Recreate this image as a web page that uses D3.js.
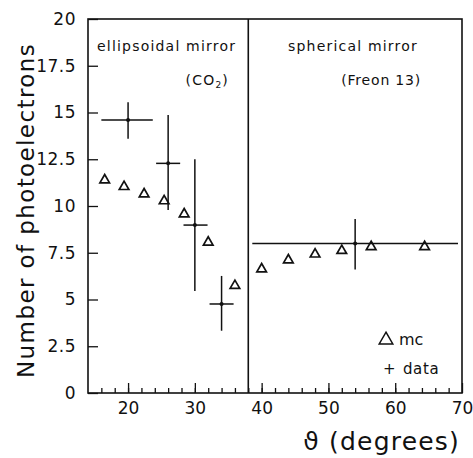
<!DOCTYPE html>
<html>
<head>
<meta charset="utf-8">
<script src="https://cdn.jsdelivr.net/npm/d3@7"></script>
<style>
  body { margin: 0; background: #fff; }
  text { font-family: "DejaVu Sans", sans-serif; fill: #111; }
</style>
</head>
<body>
<div id="chart"></div>
<script>
// data
const mcTheta = [16.5, 19.4, 22.4, 25.4, 28.4, 32, 36, 40, 44, 48, 52, 56.4, 64.4];
const mcValue = [11.39, 11.03, 10.64, 10.27, 9.57, 8.06, 5.74, 6.63, 7.11, 7.42, 7.61, 7.82, 7.82];

const dataTheta = [20, 26, 30, 34, 54];
const dataValue = [14.6, 12.28, 8.98, 4.76, 8.0];
const dataXLow = [16, 24.2, 28.3, 32.2, 38.6];
const dataXHigh = [23.7, 27.8, 31.9, 35.8, 69.4];
const dataYLow = [13.6, 9.79, 5.45, 3.33, 6.6];
const dataYHigh = [15.55, 14.87, 12.5, 6.26, 9.3];

const yTicks = [0, 2.5, 5, 7.5, 10, 12.5, 15, 17.5, 20];
const xTicks = [20, 30, 40, 50, 60, 70];
const divider = 38;

let width = 473,
    height = 458,
    plotLeft = 88, plotRight = 462,
    plotTop = 19, plotBottom = 393;

const x = d3.scaleLinear().domain([14, 70]).range([plotLeft, plotRight]);
const y = d3.scaleLinear().domain([0, 20]).range([plotBottom, plotTop]);

const svg = d3.select("#chart").append("svg")
    .attr("width", width)
    .attr("height", height);

// frame
svg.append("rect")
    .attr("x", plotLeft).attr("y", plotTop)
    .attr("width", plotRight - plotLeft).attr("height", plotBottom - plotTop)
    .attr("fill", "none").attr("stroke", "#111").attr("stroke-width", 1.6);

// divider between the two mirrors
svg.append("line")
    .attr("x1", x(divider)).attr("x2", x(divider))
    .attr("y1", plotTop).attr("y2", plotBottom)
    .attr("stroke", "#111").attr("stroke-width", 1.6);

// y axis: ticks inward, labels left
const yAxis = d3.axisLeft(y).tickValues(yTicks).tickSize(-10).tickPadding(12)
    .tickFormat(d => d);
const gy = svg.append("g").attr("transform", `translate(${plotLeft},0)`).call(yAxis);
gy.select(".domain").remove();
gy.selectAll("line").attr("stroke", "#111").attr("stroke-width", 1.3);
gy.selectAll("text").style("font-size", "17px").style("letter-spacing", "0.5px").attr("fill", "#111");

// x axis: minor ticks every 2 degrees, major every 10
const xMinor = d3.axisBottom(x).tickValues(d3.range(16, 70, 2)).tickSize(-5).tickFormat("");
const gxm = svg.append("g").attr("transform", `translate(0,${plotBottom})`).call(xMinor);
gxm.select(".domain").remove();
gxm.selectAll("line").attr("stroke", "#111").attr("stroke-width", 1.3);

const xAxis = d3.axisBottom(x).tickValues(xTicks).tickSize(-10).tickPadding(9);
const gx = svg.append("g").attr("transform", `translate(0,${plotBottom})`).call(xAxis);
gx.select(".domain").remove();
gx.selectAll("line").attr("stroke", "#111").attr("stroke-width", 1.3);
gx.selectAll("text").style("font-size", "17px").attr("fill", "#111");

// axis titles
svg.append("text")
    .attr("transform", "translate(34,378) rotate(-90)")
    .attr("text-anchor", "start")
    .style("font-size", "23px")
    .style("letter-spacing", "1.4px")
    .text("Number of photoelectrons");

svg.append("text")
    .attr("x", 460).attr("y", 450)
    .attr("text-anchor", "end")
    .style("font-size", "25px")
    .style("letter-spacing", "1.2px")
    .text("\u03d1 (degrees)");

// region labels
const lab = { size: "14px", spacing: "1.2px" };
svg.append("text").attr("x", 97).attr("y", 51)
    .style("font-size", lab.size).style("letter-spacing", lab.spacing)
    .text("ellipsoidal mirror");
const co2 = svg.append("text").attr("x", 229).attr("y", 85).attr("text-anchor", "end")
    .style("font-size", lab.size).style("letter-spacing", lab.spacing);
co2.append("tspan").text("(CO");
co2.append("tspan").attr("dy", 3).style("font-size", "9px").text("2");
co2.append("tspan").attr("dy", -3).text(")");
svg.append("text").attr("x", 288).attr("y", 51)
    .style("font-size", lab.size).style("letter-spacing", lab.spacing)
    .text("spherical mirror");
svg.append("text").attr("x", 421).attr("y", 85).attr("text-anchor", "end")
    .style("font-size", lab.size).style("letter-spacing", "0.8px")
    .text("(Freon 13)");

// data error bars
const pts = dataTheta.map((t, i) => ({
    t: t, v: dataValue[i],
    x0: dataXLow[i], x1: dataXHigh[i],
    y0: dataYLow[i], y1: dataYHigh[i]
}));

const g = svg.append("g");
g.selectAll(".hbar").data(pts).enter().append("line")
    .attr("x1", d => x(d.x0)).attr("x2", d => x(d.x1))
    .attr("y1", d => y(d.v)).attr("y2", d => y(d.v))
    .attr("stroke", "#111").attr("stroke-width", 1.5);
g.selectAll(".vbar").data(pts).enter().append("line")
    .attr("x1", d => x(d.t)).attr("x2", d => x(d.t))
    .attr("y1", d => y(d.y0)).attr("y2", d => y(d.y1))
    .attr("stroke", "#111").attr("stroke-width", 1.5);
g.selectAll("circle").data(pts).enter().append("circle")
    .attr("cx", d => x(d.t)).attr("cy", d => y(d.v))
    .attr("r", 2).attr("fill", "#111");

// mc triangles
const tri = d3.symbol().type(d3.symbolTriangle).size(40);
svg.selectAll(".mc").data(mcTheta).enter().append("path")
    .attr("d", tri)
    .attr("transform", (d, i) => `translate(${x(d)},${y(mcValue[i])})`)
    .attr("fill", "none").attr("stroke", "#111").attr("stroke-width", 1.7);

// legend
svg.append("path")
    .attr("d", d3.symbol().type(d3.symbolTriangle).size(80))
    .attr("transform", "translate(386,340)")
    .attr("fill", "none").attr("stroke", "#111").attr("stroke-width", 1.5);
svg.append("text").attr("x", 399).attr("y", 345)
    .style("font-size", "16px").text("mc");
svg.append("text").attr("x", 383).attr("y", 374)
    .style("font-size", "15px").text("+");
svg.append("text").attr("x", 403).attr("y", 374)
    .style("font-size", "15px").style("letter-spacing", "0.6px").text("data");
</script>
</body>
</html>
